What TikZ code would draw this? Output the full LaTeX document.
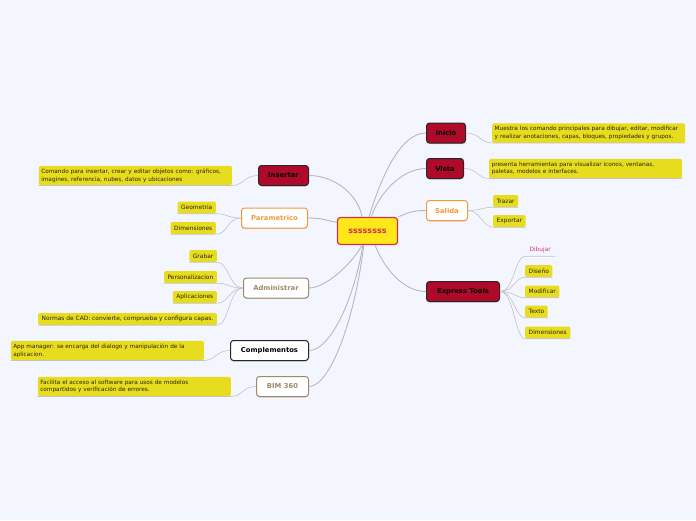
\documentclass[tikz,border=0pt]{standalone}
\usepackage{fontspec}
\setmainfont{DejaVu Sans}
\usepackage{tikz}
\usetikzlibrary{shadows}
\definecolor{MapBg}{RGB}{243,246,254}
\definecolor{TopicRed}{RGB}{176,10,42}
\definecolor{LeafYellow}{RGB}{232,220,30}
\definecolor{CoreYellow}{RGB}{255,232,26}
\definecolor{CoreRed}{RGB}{208,48,72}
\definecolor{MapOrange}{RGB}{246,152,60}
\definecolor{MapTan}{RGB}{160,136,104}
\definecolor{LinkGray}{RGB}{184,184,188}
\definecolor{LeafText}{RGB}{40,38,15}
\definecolor{DibPink}{RGB}{208,64,100}

\begin{document}
\begin{tikzpicture}[x=1pt, y=-1pt, every node/.style={font=\fontsize{5.9}{7.7}\selectfont},
  topic/.style={rounded corners=3pt,line width=1pt,minimum height=20pt,inner xsep=5pt,font=\fontsize{6.8}{8}\selectfont\bfseries,drop shadow={shadow xshift=0pt,shadow yshift=-1pt,opacity=.3}},
  redtopic/.style={topic,draw=black!85,fill=TopicRed,text=black},
  oratopic/.style={topic,draw=MapOrange,fill=white,text=MapOrange},
  tantopic/.style={topic,draw=MapTan,fill=white,text=MapTan},
  blktopic/.style={topic,draw=black!85,fill=white,text=black},
  core/.style={rounded corners=3pt,line width=1.2pt,draw=CoreRed,fill=CoreYellow,text=CoreRed,minimum width=60pt,minimum height=27pt,font=\fontsize{8}{9}\selectfont\bfseries},
  leaf/.style={fill=LeafYellow,rounded corners=1.5pt,inner xsep=3.5pt,inner ysep=2pt,minimum height=12pt,text=LeafText},
  longleaf/.style={leaf,inner xsep=2.5pt,text width=188pt,align=left,minimum height=19.5pt,font=\fontsize{5.75}{7.7}\selectfont,execute at begin node={\hyphenpenalty=10000 }},
  link/.style={draw=LinkGray,line width=.9pt},
  twig/.style={draw=LinkGray!85,line width=.6pt}]
\useasboundingbox[fill=MapBg] (0,0) rectangle (696,520);

% main topics
\node[core] (ctr) at (367.5,231) {ssssssss};
\node[redtopic,minimum width=39pt] (inicio) at (446,133) {Inicio};
\node[redtopic,minimum width=37pt] (vista) at (445,168.5) {Vista};
\node[oratopic,minimum width=41pt] (salida) at (447,210.5) {Salida};
\node[redtopic,minimum width=73pt] (express) at (463,291.5) {Express Tools};
\node[redtopic,minimum width=50pt] (insertar) at (283.5,175.5) {Insertar};
\node[oratopic,minimum width=66pt] (param) at (274.5,218) {Parametrico};
\node[tantopic,minimum width=65pt] (admin) at (276,288) {Administrar};
\node[blktopic,minimum width=78pt] (compl) at (269.5,350.5) {Complementos};
\node[tantopic,minimum width=52pt] (bim) at (282.5,386.5) {BIM 360};

% leaves, right side
\node[longleaf,anchor=west] (inicioD) at (492,133) {Muestra los comando principales para dibujar, editar, modificar\\y realizar anotaciones, capas, bloques, propiedades y grupos.};
\node[longleaf,anchor=west] (vistaD) at (489,168.5) {presenta herramientas para visualizar iconos, ventanas,\\paletas, modelos e interfaces.};
\node[leaf,anchor=west] (trazar) at (493,201) {Trazar};
\node[leaf,anchor=west] (exportar) at (493,221) {Exportar};
\node[anchor=west,inner xsep=3.5pt,inner ysep=2pt,minimum height=12pt,text=DibPink,minimum width=30pt] (dibujar) at (525,250) {Dibujar};
\node[leaf,anchor=west] (diseno) at (525,271) {Diseño};
\node[leaf,anchor=west] (modificar) at (525,291.5) {Modificar};
\node[leaf,anchor=west] (texto) at (525,311.5) {Texto};
\node[leaf,anchor=west] (dimR) at (525,332.5) {Dimensiones};

% leaves, left side
\node[longleaf,anchor=east] (insD) at (232,175.5) {Comando para insertar, crear y editar objetos como: gráficos,\\imagines, referencia, nubes, datos y ubicaciones};
\node[leaf,anchor=east] (geometria) at (216,207.5) {Geometria};
\node[leaf,anchor=east] (dimL) at (216,228) {Dimensiones};
\node[leaf,anchor=east] (grabar) at (217,256) {Grabar};
\node[leaf,anchor=east] (perso) at (217,277) {Personalizacion};
\node[leaf,anchor=east] (aplic) at (217,297) {Aplicaciones};
\node[leaf,anchor=east] (normas) at (217,319) {Normas de CAD: convierte, comprueba y configura capas.};
\node[longleaf,anchor=east] (appD) at (204,350.5) {App manager: se encarga del dialogo y manipulación de la\\aplicacion.};
\node[longleaf,anchor=east] (bimD) at (231,386.5) {Facilita el acceso al software para usos de modelos\\compartidos y verificación de errores.};

% links from the central topic
\draw[link] (ctr.84) .. controls +(12,-39) and +(-26,0) .. (inicio.west);
\draw[link] (ctr.75) .. controls +(8,-24) and +(-24,0) .. (vista.west);
\draw[link] (ctr.north east) .. controls +(10,-4) and +(-14,0) .. (salida.west);
\draw[link] (ctr.-62) .. controls +(10,25) and +(-22,0) .. (express.west);
\draw[link] (insertar.east) .. controls +(26,0) and +(-4,-22) .. (ctr.111);
\draw[link] (param.east) .. controls +(14,0) and +(-12,-2) .. (ctr.164);
\draw[link] (admin.east) .. controls +(16,0) and +(-11,20) .. (ctr.-111);
\draw[link] (compl.east) .. controls +(21,0) and +(-9,55) .. (ctr.-108);
\draw[link] (bim.east) .. controls +(21,0) and +(-9,75) .. (ctr.-105);

% twigs to the leaves
\draw[twig] (inicio.east) .. controls +(14,0) and +(-12,0) .. (inicioD.south west) -- (inicioD.south east);
\draw[twig] (vista.east) .. controls +(14,0) and +(-12,0) .. (vistaD.south west) -- (vistaD.south east);
\draw[twig] (salida.east) .. controls +(12,0) and +(-10,0) .. (trazar.south west) -- (trazar.south east);
\draw[twig] (salida.east) .. controls +(12,0) and +(-10,0) .. (exportar.south west) -- (exportar.south east);
\foreach \leafname in {dibujar,diseno,modificar,texto,dimR}
  \draw[twig] (express.east) .. controls +(14,0) and +(-10,0) .. (\leafname.south west) -- (\leafname.south east);
\draw[twig] (insertar.west) .. controls +(-14,0) and +(12,0) .. (insD.south east) -- (insD.south west);
\foreach \leafname in {geometria,dimL}
  \draw[twig] (param.west) .. controls +(-14,0) and +(12,0) .. (\leafname.south east) -- (\leafname.south west);
\foreach \leafname in {grabar,perso,aplic,normas}
  \draw[twig] (admin.west) .. controls +(-14,0) and +(12,0) .. (\leafname.south east) -- (\leafname.south west);
\draw[twig] (compl.west) .. controls +(-14,0) and +(12,0) .. (appD.south east) -- (appD.south west);
\draw[twig] (bim.west) .. controls +(-14,0) and +(12,0) .. (bimD.south east) -- (bimD.south west);
\end{tikzpicture}
\end{document}
